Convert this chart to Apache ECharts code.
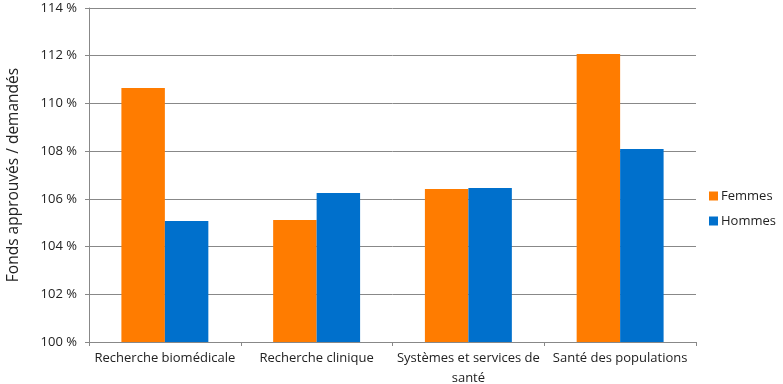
<!DOCTYPE html>
<html><head><meta charset="utf-8">
<script src="https://cdn.jsdelivr.net/npm/echarts@6/dist/echarts.min.js"></script>
<style>html,body{margin:0;padding:0;background:#fff}#c{width:783px;height:384px}</style>
</head><body><div id="c"></div>
<script>
const categories = ['Recherche biomédicale', 'Recherche clinique', 'Systèmes et services de\nsanté', 'Santé des populations'];
const femmes = [110.65, 105.11, 106.41, 112.07];
const hommes = [105.07, 106.25, 106.45, 108.09];
const seriesNames = ['Femmes', 'Hommes'];
const yTitle = 'Fonds approuvés / demandés';

const chart = echarts.init(document.getElementById('c'), null, {renderer: 'canvas'});
const font = 'Open Sans';
chart.setOption({
  animation: false,
  textStyle: {fontFamily: font},
  grid: {left: 89, right: 87, top: 8, bottom: 42, containLabel: false, outerBoundsMode: 'none'},
  legend: {
    orient: 'vertical', left: 704, top: 183,
    itemWidth: 9, itemHeight: 9, itemGap: 9,
    icon: 'rect',
    textStyle: {fontFamily: font, fontSize: 13, color: '#222', padding: [0,0,0,-2], lineHeight: 16},
    data: seriesNames
  },
  xAxis: {
    type: 'category', data: categories,
    axisLine: {lineStyle: {color: '#888', width: 1}},
    axisTick: {show: true, length: 4, lineStyle: {color: '#888'}},
    axisLabel: {fontFamily: font, fontSize: 13, color: '#222', margin: 6, lineHeight: 20, interval: 0}
  },
  yAxis: {
    type: 'value', min: 100, max: 114, interval: 2,
    name: yTitle, nameLocation: 'middle', nameGap: 67, nameRotate: 90,
    nameTextStyle: {fontFamily: font, fontSize: 15.5, color: '#222'},
    axisLine: {show: true, lineStyle: {color: '#888', width: 1}},
    axisTick: {show: true, length: 4, lineStyle: {color: '#888'}},
    axisLabel: {fontFamily: font, fontSize: 13, color: '#222', margin: 12, formatter: v => v + ' %'},
    splitLine: {lineStyle: {color: '#888', width: 1}}
  },
  series: [
    {name: seriesNames[0], type: 'bar', data: femmes, barGap: '0%', barCategoryGap: '42.7%', itemStyle: {color: '#FF7C00'}},
    {name: seriesNames[1], type: 'bar', data: hommes, barGap: '0%', barCategoryGap: '42.7%', itemStyle: {color: '#0070CC'}}
  ]
});
</script></body></html>
